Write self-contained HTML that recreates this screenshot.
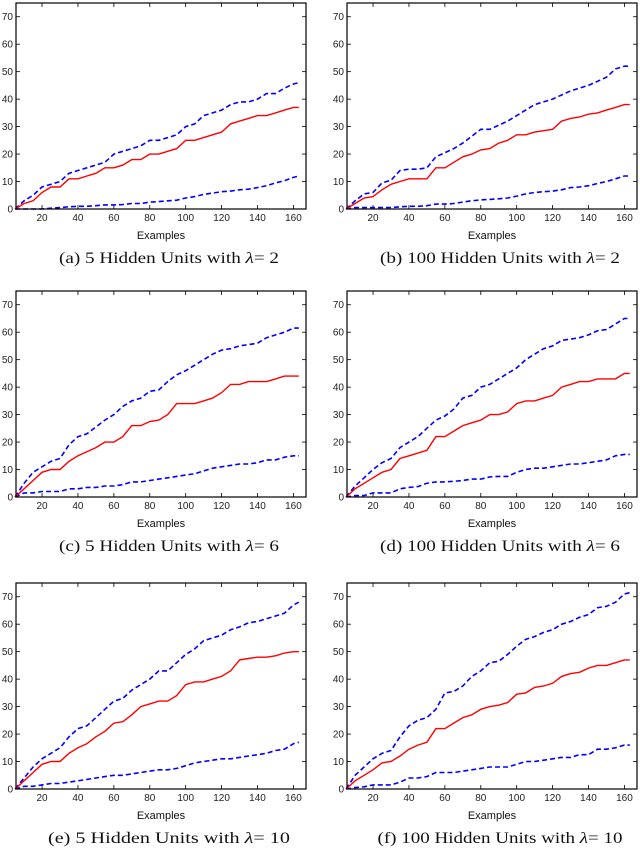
<!DOCTYPE html>
<html><head><meta charset="utf-8"><style>
body{margin:0;background:#fff;width:640px;height:848px;overflow:hidden}
svg{display:block}
</style></head><body>
<svg id="fig" width="640" height="848" xmlns="http://www.w3.org/2000/svg"></svg>
<script>
const xs=[5,10,15,20,25,30,35,40,45,50,55,60,65,70,75,80,85,90,95,100,105,110,115,120,125,130,135,140,145,150,155,160,163];
const xTicks=[20,40,60,80,100,120,140,160];
const yTicks=[0,10,20,30,40,50,60,70];
const captionPre=["(a) 5 Hidden Units with ","(b) 100 Hidden Units with ","(c) 5 Hidden Units with ","(d) 100 Hidden Units with ","(e) 5 Hidden Units with ","(f) 100 Hidden Units with "];
const captionVal=["= 2","= 2","= 6","= 6","= 10","= 10"];
const redA=[0,2,3,6,8,8,11,11,12,13,15,15,16,18,18,20,20,21,22,25,25,26,27,28,31,32,33,34,34,35,36,37,37];
const upA=[0,3,5,8,9,10,13,14,15,16,17,20,21,22,23,25,25,26,27,30,31,34,35,36,38,39,39,40,42,42,44,45.5,46];
const loA=[0,0,0,0,0.3,0.5,0.8,1,1,1.2,1.5,1.5,1.6,2,2,2.5,2.7,3,3.2,4,4.5,5.3,5.8,6.3,6.5,7,7.2,7.8,8.5,9.5,10.3,11.5,12];
const redB=[0,2,4,4.5,7,9,10,11,11,11,15,15,17,19,20,21.5,22,24,25,27,27,28,28.5,29,32,33,33.5,34.5,35,36,37,38,38];
const upB=[0,3,5.5,6,9.5,10.5,14,14.5,14.5,15,19,20.5,22,24,26.5,29,29,30.5,32,34,36,38,39,40,41.5,43,44,45,46.5,48,51,52,52];
const loB=[0,0.5,0.5,0.5,0.5,0.5,0.8,1,1,1.2,1.8,1.8,2,2.5,3,3.3,3.5,3.7,4,4.7,5.5,6,6.3,6.5,7,7.8,8,8.5,9.3,10,11,12,12];
const redC=[0,3,6,9,10,10,13,15,16.5,18,20,20,22,26,26,27.5,28,30,34,34,34,35,36,38,41,41,42,42,42,43,44,44,44];
const upC=[0,5,9,11,13,14,19,22,23,25.5,28,30,33,35,36,38.5,39,42,44.5,46,48,50,52,53.5,54,55,55.5,56,58,59,60,61.5,61.5];
const loC=[0,1.5,1.5,2,2,2,3,3,3.5,3.5,4,4,4.5,5.5,5.5,6,6.5,7,7.5,8,8.5,9.5,10.5,11,11.5,12,12,12.5,13.5,13.5,14.5,15,15];
const redD=[0,3,5,7,9,10,14,15,16,17,22,22,24,26,27,28,30,30,31,34,35,35,36,37,40,41,42,42,43,43,43,45,45];
const upD=[0,4,7,10,12.5,14,18,20,22,25,28,29.5,32,36,37,40,41,43,45,47,50,52,54,55,57,57.5,58,59,60.5,61,63,65,65];
const loD=[0,0.5,0.5,1.5,1.5,1.5,3,3.5,3.8,5,5.5,5.5,5.7,6,6.5,6.5,7.3,7.5,7.5,9,10,10.5,10.5,11,11.5,12,12,12.5,13,13.5,15,15.5,15.5];
const redE=[0,3,6,9,10,10,13,15,16.5,19,21,24,24.5,27,30,31,32,32,34,38,39,39,40,41,43,47,47.5,48,48,48.5,49.5,50,50];
const upE=[0,4,8,11,13,15,19,22,23,26,29,32,33,36,38,40,43,43,46,49,51,54,55,56,58,59,60.5,61,62,63,64,67,68];
const loE=[0,1,1,1.5,2,2,2.5,3,3.5,4,4.5,5,5,5.5,6,6.5,7,7,7.5,8.5,9.5,10,10.5,11,11,11.5,12,12.5,13,14,14.5,16.5,17];
const redF=[0,3,5,7,9.5,10,12,14.5,16,17,22,22,24,26,27,29,30,30.5,31.5,34.5,35,37,37.5,38.5,41,42,42.5,44,45,45,46,47,47];
const upF=[0,5,8,11,13,14,19,23,25,26,29,35,35.5,37.5,41,43,46,46.5,49,52,54.5,55.5,57,58,60,61,62.5,63.5,66,66.5,68,71,71.5];
const loF=[0,0.5,0.8,1.5,1.5,1.5,2.5,4,4,4.5,6,6,6,6.5,7,7.5,8,8,8,9,10,10,10.5,11,11.5,11.5,12.5,12.5,14.5,14.5,15,16,16];
const reds=[redA,redB,redC,redD,redE,redF];
const ups=[upA,upB,upC,upD,upE,upF];
const los=[loA,loB,loC,loD,loE,loF];
const letters=['a','b','c','d','e','f'];
const capWidths=[220,240,220,240,242,245];

const NS='http://www.w3.org/2000/svg';
const svg=document.getElementById('fig');
function mk(tag,attrs,parent){const e=document.createElementNS(NS,tag);for(const k in attrs)e.setAttribute(k,attrs[k]);(parent||svg).appendChild(e);return e;}
const lefts=[16,347],tops=[3,291,583],W=290,H=206,XMIN=5.5,XMAX=167,YMAX=75;
for(let p=0;p<6;p++){
  const L=lefts[p%2],T=tops[Math.floor(p/2)];
  const sx=v=>L+(v-XMIN)/(XMAX-XMIN)*W;
  const sy=v=>T+H-v/YMAX*H;
  const g=mk('g',{});
  
  
  for(const t of yTicks){
    const y=sy(t);
    mk('line',{x1:L,x2:L+4,y1:y,y2:y,stroke:'#000','stroke-width':0.8},g);
    mk('line',{x1:L+W-4,x2:L+W,y1:y,y2:y,stroke:'#000','stroke-width':0.8},g);
    const tx=mk('text',{x:L-3,y:y+3.5,'text-anchor':'end','font-family':'Liberation Sans, sans-serif','font-size':10,fill:'#222'},g);
    tx.textContent=t;
    
    
  }
  for(const t of xTicks){
    const x=sx(t);
    mk('line',{x1:x,x2:x,y1:T+H,y2:T+H-4,stroke:'#000','stroke-width':0.8},g);
    mk('line',{x1:x,x2:x,y1:T,y2:T+4,stroke:'#000','stroke-width':0.8},g);
    const tx=mk('text',{x:x,y:T+H+12,'text-anchor':'middle','font-family':'Liberation Sans, sans-serif','font-size':10,fill:'#222'},g);
    tx.textContent=t;
    
    
  }
  const series=[[los[p],'#0000ff','5,3',1.6,'lower-bound-line'],[ups[p],'#0000ff','5,3',1.6,'upper-bound-line'],[reds[p],'#ff0000','',1.4,'mean-line']];
  for(const s of series){
    const pts=xs.map((x,i)=>sx(x).toFixed(1)+','+sy(s[0][i]).toFixed(1)).join(' ');
    const pl=mk('polyline',{points:pts,fill:'none',stroke:s[1],'stroke-width':s[3],'stroke-dasharray':s[2]||'none'},g);
    
    
  }
  const box=mk('rect',{x:L,y:T,width:W,height:H,fill:'none',stroke:'#000','stroke-width':1.2},g);
  
  
  const xl=mk('text',{x:L+W/2,y:T+H+30,'text-anchor':'middle','font-family':'Liberation Sans, sans-serif','font-size':11,fill:'#111'},g);
  xl.textContent='Examples';
  
  
  const cw=capWidths[p];
  const cp=mk('text',{x:L+W/2+8-cw/2,y:T+H+54,'font-family':'Liberation Serif, serif','font-size':16,fill:'#111',textLength:cw,lengthAdjust:'spacingAndGlyphs'},g);
  
  
  const t1=mk('tspan',{},cp); t1.textContent=captionPre[p];
  const t2=mk('tspan',{'font-style':'italic'},cp); t2.textContent='\u03bb';
  const t3=mk('tspan',{},cp); t3.textContent=captionVal[p];
}
</script>
</body></html>
